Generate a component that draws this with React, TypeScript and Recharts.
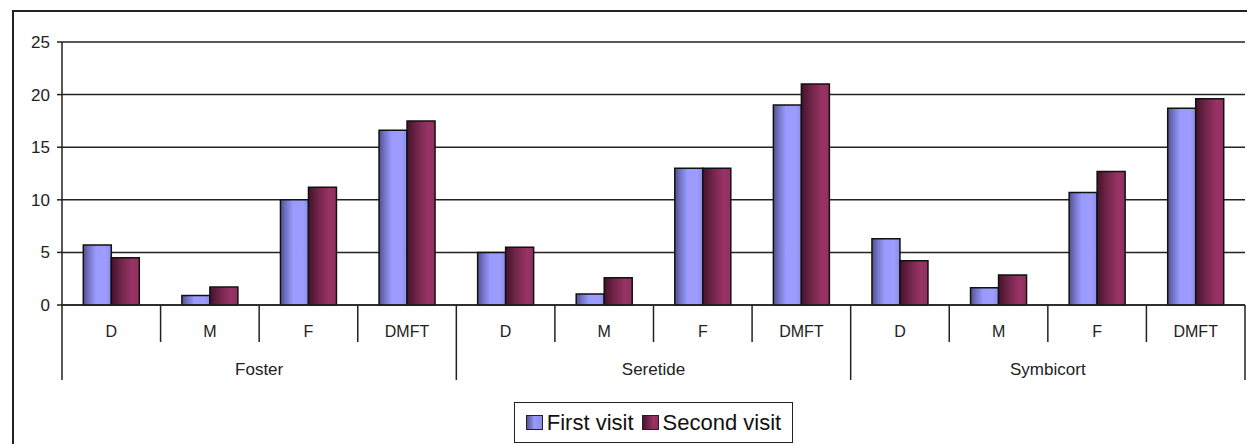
import React from "react";
import { BarChart, Bar, XAxis, YAxis, CartesianGrid, Legend } from "recharts";

// values
const groups = ["Foster", "Seretide", "Symbicort"];
const subLabels = ["D", "M", "F", "DMFT"];
const firstVisit = [5.7, 0.9, 10.0, 16.6, 5.0, 1.05, 13.0, 19.0, 6.3, 1.65, 10.7, 18.7];
const secondVisit = [4.5, 1.7, 11.2, 17.5, 5.5, 2.6, 13.0, 21.0, 4.2, 2.85, 12.7, 19.6];
const yTicks = [0, 5, 10, 15, 20, 25];
const seriesNames = ["First visit", "Second visit"];

const data = firstVisit.map((v, i) => ({
  key: `${groups[Math.floor(i / 4)]}-${subLabels[i % 4]}`,
  sub: subLabels[i % 4],
  group: groups[Math.floor(i / 4)],
  first: v,
  second: secondVisit[i],
}));

const W = 1247;
const H = 444;
const PLOT_LEFT = 62;
const PLOT_RIGHT = 1245;
const BAND = (PLOT_RIGHT - PLOT_LEFT) / data.length;
const FONT = "'Liberation Sans', Arial, sans-serif";

const CategoryTick = (props: any) => {
  const { x, y, payload } = props;
  const i = payload.index;
  const row = data[i];
  const left = x - BAND / 2;
  const right = x + BAND / 2;
  const isGroupStart = i % 4 === 0;
  const isLast = i === data.length - 1;
  return (
    <g>
      <line x1={left} x2={left} y1={y} y2={isGroupStart ? y + 75 : y + 37} stroke="#222" strokeWidth={1.5} />
      {isLast && <line x1={right} x2={right} y1={y} y2={y + 75} stroke="#222" strokeWidth={1.5} />}
      <text x={x} y={y + 32} textAnchor="middle" fontSize={16} fill="#222" fontFamily={FONT}>
        {row.sub}
      </text>
      {i % 4 === 1 && (
        <text x={right} y={y + 70} textAnchor="middle" fontSize={17} fill="#222" fontFamily={FONT}>
          {row.group}
        </text>
      )}
    </g>
  );
};

const swatch = [
  "linear-gradient(to right, #55558f, #9999ff 50%, #8c8ce8)",
  "linear-gradient(to right, #4a1530, #993366 70%, #8e2f5f)",
];

const LegendBox = () => (
  <div
    style={{
      width: 279,
      height: 41,
      boxSizing: "border-box",
      border: "1.5px solid #222",
      background: "#fff",
      display: "flex",
      alignItems: "center",
      justifyContent: "center",
      fontFamily: FONT,
      fontSize: 22,
      color: "#111",
    }}
  >
    {seriesNames.map((name, i) => (
      <span key={name} style={{ display: "flex", alignItems: "center", marginRight: i === 0 ? 8 : 0 }}>
        <span
          style={{
            display: "inline-block",
            width: 15,
            height: 13,
            border: "1.5px solid #222",
            background: swatch[i],
            marginRight: 4,
          }}
        />
        {name}
      </span>
    ))}
  </div>
);

export default function App() {
  return (
    <div style={{ position: "absolute", left: 0, top: 0, width: W, height: H, overflow: "hidden", background: "#fff" }}>
      <div
        style={{
          position: "absolute",
          left: 12,
          top: 10,
          width: 1260,
          height: 460,
          border: "2px solid #222",
        }}
      />
      <div style={{ position: "absolute", left: 0, top: 0 }}>
        <BarChart
          width={W}
          height={H}
          data={data}
          margin={{ top: 42, right: W - PLOT_RIGHT, left: 0, bottom: 59 }}
          barCategoryGap="21.6%"
          barGap={0}
        >
          <defs>
            <linearGradient id="gFirst" x1="0" y1="0" x2="1" y2="0">
              <stop offset="0%" stopColor="#50508a" />
              <stop offset="20%" stopColor="#7474c8" />
              <stop offset="45%" stopColor="#9a9aff" />
              <stop offset="80%" stopColor="#9d9dff" />
              <stop offset="100%" stopColor="#8a8ae6" />
            </linearGradient>
            <linearGradient id="gSecond" x1="0" y1="0" x2="1" y2="0">
              <stop offset="0%" stopColor="#44122c" />
              <stop offset="35%" stopColor="#702548" />
              <stop offset="75%" stopColor="#993366" />
              <stop offset="100%" stopColor="#92305f" />
            </linearGradient>
          </defs>
          <CartesianGrid vertical={false} stroke="#222" strokeWidth={1.5} />
          <XAxis
            dataKey="key"
            height={80}
            interval={0}
            tickLine={false}
            tickSize={0}
            tickMargin={0}
            axisLine={{ stroke: "#222", strokeWidth: 1.5 }}
            tick={<CategoryTick />}
          />
          <YAxis
            width={PLOT_LEFT}
            domain={[0, 25]}
            ticks={yTicks}
            interval={0}
            tickSize={5}
            tickMargin={7}
            tickLine={{ stroke: "#222", strokeWidth: 1.5 }}
            axisLine={{ stroke: "#222", strokeWidth: 1.5 }}
            tick={{ fill: "#222", fontSize: 17, fontFamily: FONT }}
          />
          <Legend
            layout="horizontal"
            verticalAlign="middle"
            align="center"
            wrapperStyle={{ left: 514, top: 402, width: 279, height: 41 }}
            content={() => <LegendBox />}
          />
          <Bar dataKey="first" name={seriesNames[0]} fill="url(#gFirst)" stroke="#111" strokeWidth={1.5} isAnimationActive={false} />
          <Bar dataKey="second" name={seriesNames[1]} fill="url(#gSecond)" stroke="#111" strokeWidth={1.5} isAnimationActive={false} />
        </BarChart>
      </div>
    </div>
  );
}
